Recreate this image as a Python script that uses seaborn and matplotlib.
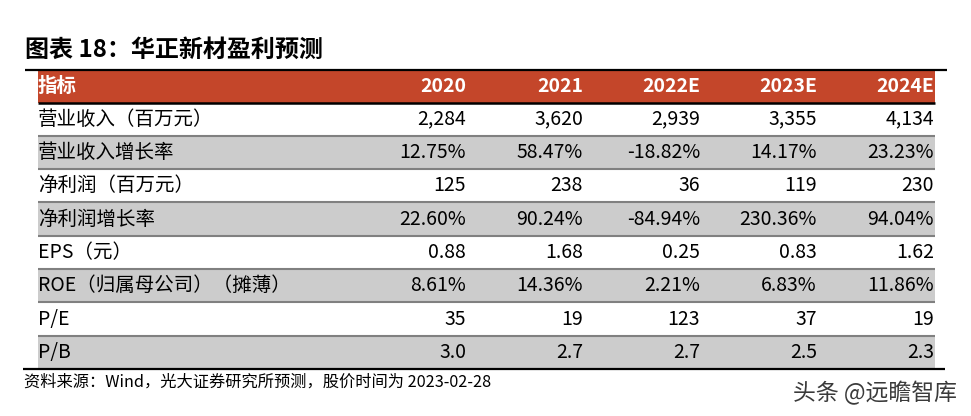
import matplotlib
matplotlib.use('Agg')
import matplotlib.pyplot as plt
from matplotlib.colors import ListedColormap
import seaborn as sns

# Table data
years = ['2020', '2021', '2022E', '2023E', '2024E']
metrics = ['营业收入（百万元）', '营业收入增长率', '净利润（百万元）', '净利润增长率',
           'EPS（元）', 'ROE（归属母公司）（摊薄）', 'P/E', 'P/B']
revenue = [2284, 3620, 2939, 3355, 4134]
revenue_growth = [12.75, 58.47, -18.82, 14.17, 23.23]
net_profit = [125, 238, 36, 119, 230]
profit_growth = [22.60, 90.24, -84.94, 230.36, 94.04]
eps = [0.88, 1.68, 0.25, 0.83, 1.62]
roe = [8.61, 14.36, 2.21, 6.83, 11.86]
pe = [35, 19, 123, 37, 19]
pb = [3.0, 2.7, 2.7, 2.5, 2.3]

rows = [
    ['{:,.0f}'.format(v) for v in revenue],
    ['{:.2f}%'.format(v) for v in revenue_growth],
    ['{:.0f}'.format(v) for v in net_profit],
    ['{:.2f}%'.format(v) for v in profit_growth],
    ['{:.2f}'.format(v) for v in eps],
    ['{:.2f}%'.format(v) for v in roe],
    ['{:.0f}'.format(v) for v in pe],
    ['{:.1f}'.format(v) for v in pb],
]
shade = [[0], [1], [0], [1], [0], [1], [0], [1]]

sns.set_theme(style='white')
plt.rcParams['font.family'] = ['Noto Sans CJK SC', 'DejaVu Sans']

W, H = 971, 416
fig = plt.figure(figsize=(W / 100, H / 100), dpi=100)


def px_axes(x0, y0, x1, y1):
    return fig.add_axes([x0 / W, 1 - y1 / H, (x1 - x0) / W, (y1 - y0) / H])


red = '#C4462A'
left, right = 38, 934.5
head_top, head_bot = 70.7, 102.5
body_bot = 369
row_h = (body_bot - head_bot) / len(metrics)

# header band
hax = px_axes(left, head_top, right, head_bot)
sns.heatmap([[1]], cmap=ListedColormap([red]), cbar=False,
            xticklabels=False, yticklabels=False, ax=hax)

# body shading
bax = px_axes(left, head_bot, right, body_bot)
sns.heatmap(shade, cmap=ListedColormap(['white', '#cccccc']), vmin=0, vmax=1,
            cbar=False, xticklabels=False, yticklabels=False, ax=bax)

# overlay for text and rules
ax = fig.add_axes([0, 0, 1, 1])
ax.set_xlim(0, W)
ax.set_ylim(H, 0)
ax.axis('off')
ax.patch.set_alpha(0)

col_right = [466, 583, 700, 817, 934]

ax.text(25, 50, '图表 18：华正新材盈利预测', fontsize=17.3, fontweight='bold',
        ha='left', va='center', color='black')

hy = (head_top + head_bot) / 2
ax.text(left, hy, '指标', fontsize=14, fontweight='bold', color='white',
        ha='left', va='center')
for x, yr in zip(col_right, years):
    ax.text(x, hy, yr, fontsize=14, fontweight='bold', color='white',
            ha='right', va='center')

for i, (name, vals) in enumerate(zip(metrics, rows)):
    y = head_bot + (i + 0.5) * row_h
    ax.text(left, y, name, fontsize=14, ha='left', va='center', color='black')
    for x, v in zip(col_right, vals):
        ax.text(x, y, v, fontsize=14, ha='right', va='center', color='black')

# rules
ax.plot([25, 947], [70, 70], color='black', lw=1.6, solid_capstyle='butt')
ax.plot([left, right], [head_bot, head_bot], color='black', lw=1.8, solid_capstyle='butt')
for i in range(1, len(metrics)):
    y = head_bot + i * row_h
    ax.plot([left, right], [y, y], color='#808080', lw=1.5, solid_capstyle='butt')
ax.plot([23, 945], [body_bot, body_bot], color='black', lw=1.6, solid_capstyle='butt')

ax.text(24, 382, '资料来源：Wind，光大证券研究所预测，股价时间为 2023-02-28',
        fontsize=11.7, ha='left', va='center', color='black')
ax.text(957, 393, '头条 @远瞻智库', fontsize=16.5, ha='right', va='center',
        color='#3a3a3a')

fig.savefig('out.png', dpi=100)
